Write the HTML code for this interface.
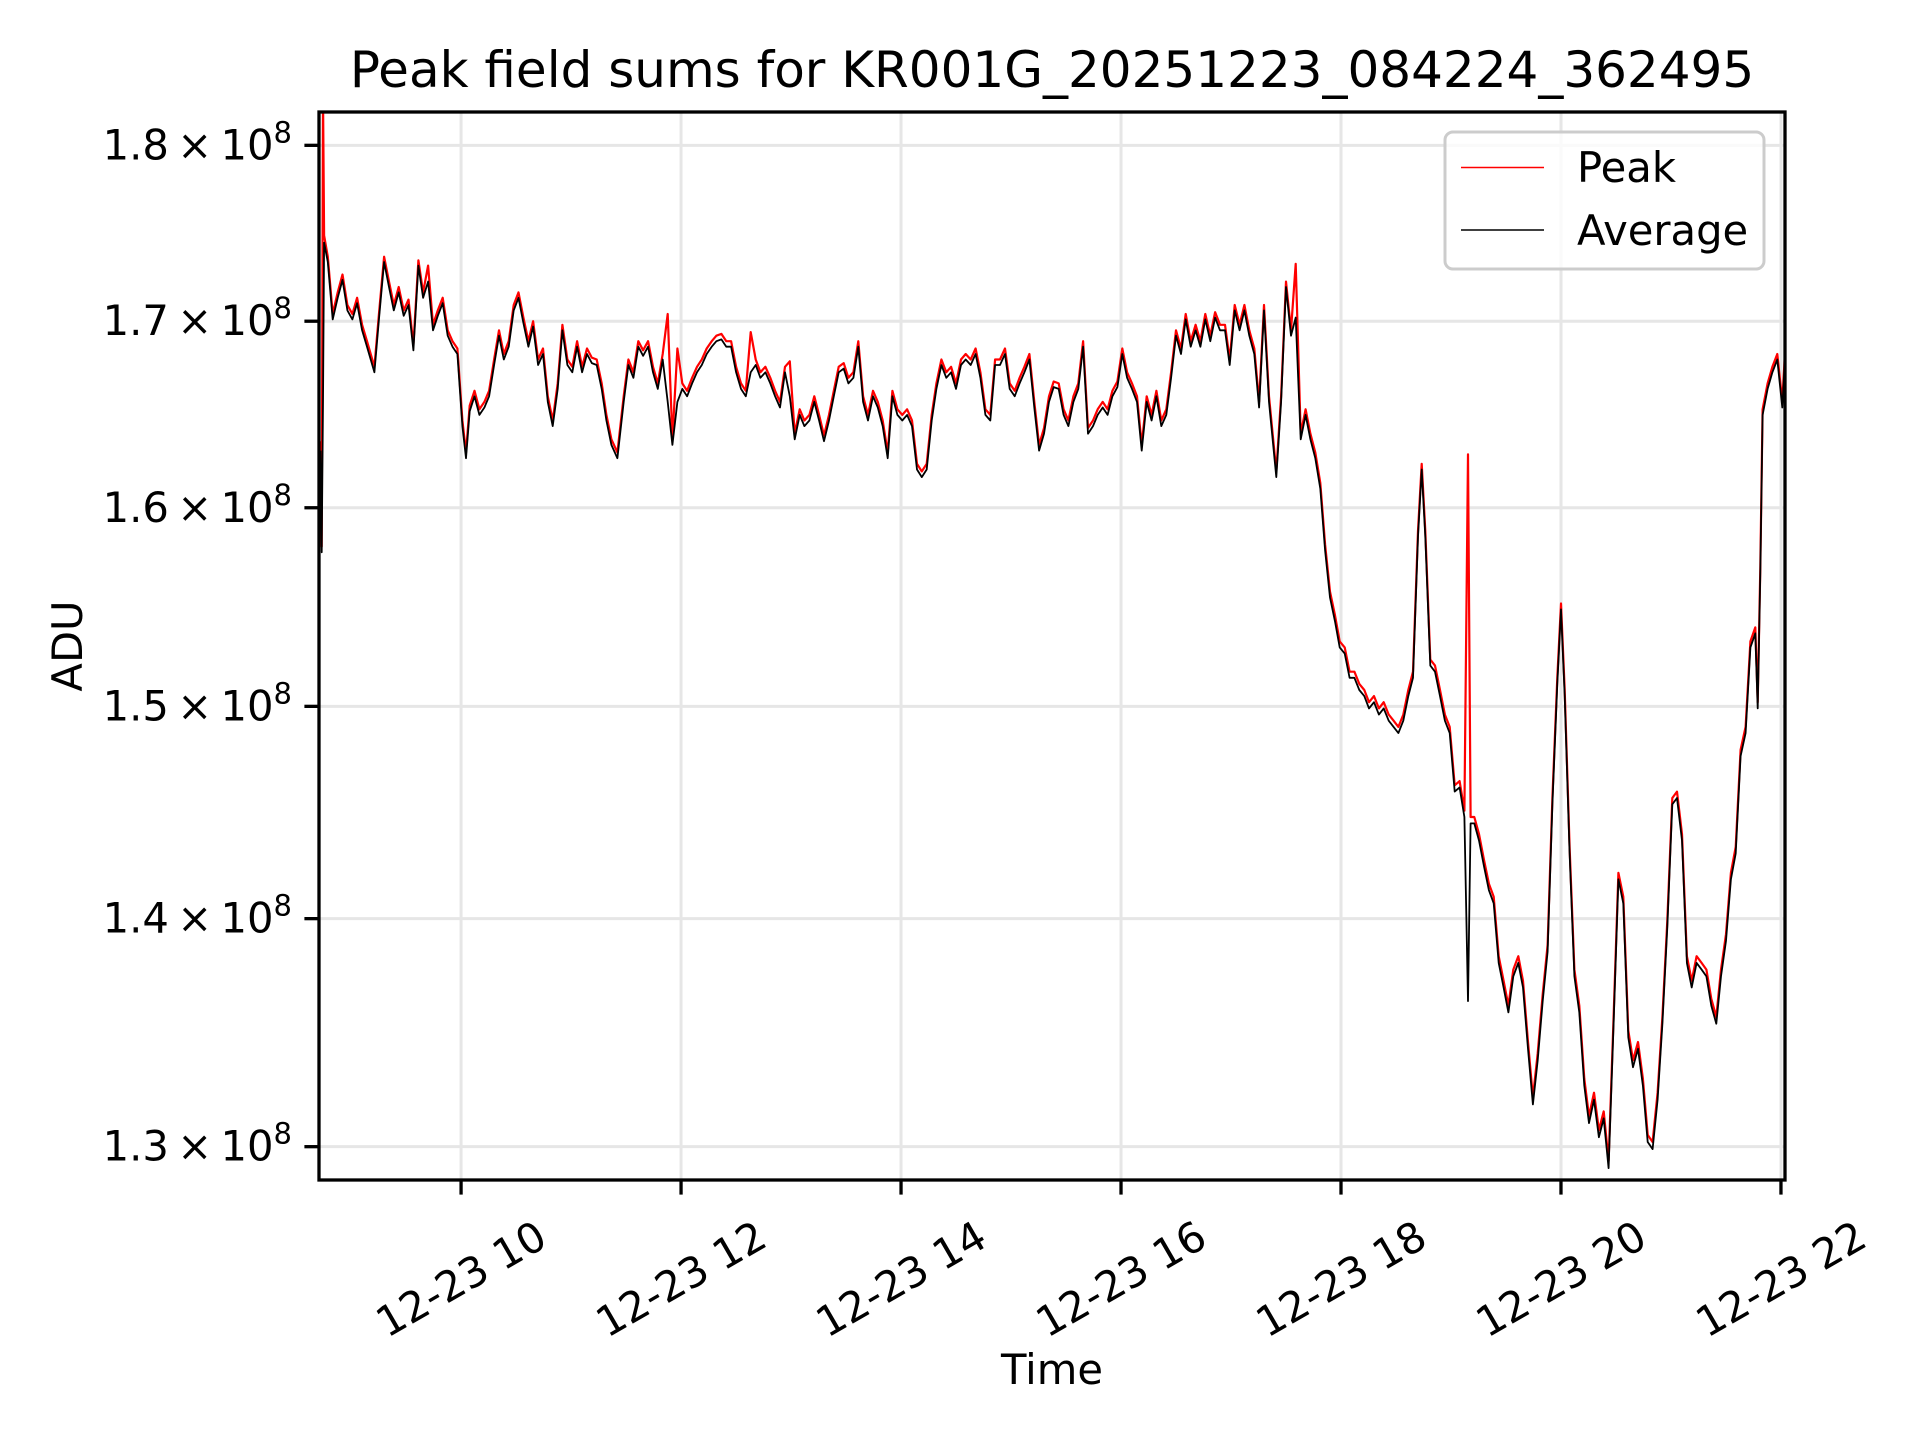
<!DOCTYPE html>
<html><head><meta charset="utf-8"><style>html,body{margin:0;padding:0;background:#fff;}svg{display:block;}text{font-family:"DejaVu Sans","Liberation Sans",sans-serif;fill:#000;}</style></head>
<body>
<svg id="chart" width="1920" height="1440" viewBox="0 0 1920 1440" xmlns="http://www.w3.org/2000/svg">
<rect x="0" y="0" width="1920" height="1440" fill="#fff"/>
<defs><clipPath id="plotclip"><rect x="319" y="112" width="1466" height="1068"/></clipPath></defs>
<g id="grid"></g>
<g id="series" clip-path="url(#plotclip)"></g>
<rect x="319" y="112" width="1466" height="1068" fill="none" stroke="#000" stroke-width="3.3"/>
<g id="axes"></g>
<text x="1052" y="87" font-size="50" text-anchor="middle">Peak field sums for KR001G_20251223_084224_362495</text>
<text x="1052" y="1384" font-size="41.7" text-anchor="middle">Time</text>
<text x="0" y="0" font-size="41.7" text-anchor="middle" transform="translate(82,646) rotate(-90)">ADU</text>
<g>
<rect x="1445" y="132" width="319" height="137" rx="8" fill="#fff" fill-opacity="0.8" stroke="#cccccc" stroke-width="3"/>
<line x1="1461" y1="167.5" x2="1544" y2="167.5" stroke="#ff0000" stroke-width="1.6"/>
<text x="1577" y="182" font-size="41.7">Peak</text>
<line x1="1461" y1="230" x2="1544" y2="230" stroke="#000" stroke-width="1.6"/>
<text x="1577" y="245" font-size="41.7">Average</text>
</g>
</svg>
<script>
// minutes after 2025-12-23 08:00
const times = [43.3,44.0,44.7,45.3,47.3,50.0,52.7,55.3,58.0,60.7,63.3,66.0,68.7,72.7,75.3,78.0,80.7,83.3,86.0,88.7,91.3,94.0,96.7,99.3,102.0,104.7,107.3,110.0,112.7,115.3,118.0,120.7,122.7,124.7,127.3,130.0,132.7,135.3,138.0,140.7,143.3,146.0,148.7,151.3,154.0,156.7,159.3,162.0,164.7,167.3,170.0,172.7,175.3,178.0,180.7,183.3,186.0,188.7,191.3,194.0,196.7,199.3,202.0,205.3,208.7,211.3,214.0,216.7,219.3,222.0,224.7,227.3,230.0,232.7,235.3,238.0,240.7,243.3,246.0,248.7,251.3,254.0,256.7,259.3,262.0,264.7,267.3,270.0,272.7,275.3,278.0,280.7,283.3,286.0,288.7,291.3,294.0,296.7,299.3,302.0,304.7,307.3,310.0,312.7,315.3,318.0,320.7,323.3,326.0,328.7,331.3,334.0,336.7,339.3,342.0,344.7,347.3,350.0,352.7,355.3,358.0,360.7,363.3,366.0,368.7,371.3,374.0,376.7,379.3,382.0,384.7,387.3,390.0,392.7,395.3,398.0,400.7,403.3,406.0,408.7,411.3,414.0,416.7,419.3,422.0,424.7,427.3,430.0,432.7,435.3,438.0,440.7,443.3,446.0,448.7,451.3,454.0,456.7,459.3,462.0,464.7,467.3,470.0,472.7,475.3,478.0,480.7,483.3,486.0,488.7,491.3,494.0,496.7,499.3,502.0,504.7,507.3,510.0,512.7,515.3,518.0,520.7,523.3,526.0,528.7,531.3,534.0,536.7,539.3,542.0,544.7,547.3,550.0,552.7,555.3,558.0,560.7,564.7,567.3,570.0,572.7,575.3,578.0,580.7,583.3,586.0,588.7,591.3,594.0,596.7,599.3,602.0,604.7,607.3,610.0,612.7,615.3,618.0,620.7,623.3,626.0,628.7,631.3,634.0,636.7,639.3,642.0,644.0,646.0,648.7,651.3,654.0,656.7,659.3,662.0,664.7,667.3,669.3,670.7,672.7,675.3,678.0,680.7,683.3,686.0,688.7,691.3,694.0,696.7,699.3,702.0,704.7,707.3,710.0,712.7,715.3,718.0,720.0,722.0,724.7,727.3,730.0,732.7,735.3,738.0,740.7,743.3,746.0,748.7,751.3,754.0,756.7,759.3,762.0,764.7,767.3,770.0,772.7,775.3,778.0,780.7,783.3,786.0,788.7,791.3,794.0,796.7,799.3,802.0,804.7,807.3,810.0,812.7,815.3,818.0,820.7,823.3,826.0,827.3,828.7,830.0,832.7,835.3,838.0,840.7,842.0];
// Average, units of 1e8 ADU
const averageValues = [1.630,1.577,1.656,1.744,1.733,1.701,1.713,1.723,1.706,1.701,1.710,1.695,1.686,1.672,1.702,1.733,1.719,1.706,1.716,1.703,1.709,1.684,1.731,1.713,1.722,1.695,1.703,1.710,1.692,1.686,1.682,1.643,1.626,1.651,1.659,1.649,1.653,1.659,1.676,1.692,1.679,1.686,1.706,1.713,1.699,1.686,1.697,1.676,1.682,1.656,1.643,1.663,1.695,1.676,1.672,1.686,1.672,1.682,1.677,1.676,1.663,1.646,1.633,1.626,1.656,1.676,1.669,1.686,1.681,1.686,1.672,1.663,1.679,1.656,1.633,1.656,1.663,1.659,1.666,1.672,1.676,1.682,1.686,1.689,1.690,1.686,1.686,1.672,1.663,1.659,1.672,1.676,1.669,1.672,1.666,1.659,1.653,1.672,1.659,1.636,1.649,1.643,1.646,1.656,1.646,1.635,1.646,1.659,1.672,1.674,1.666,1.669,1.686,1.656,1.646,1.659,1.653,1.643,1.626,1.659,1.649,1.646,1.649,1.643,1.620,1.616,1.620,1.646,1.663,1.676,1.669,1.672,1.663,1.676,1.679,1.676,1.682,1.669,1.649,1.646,1.676,1.676,1.682,1.663,1.659,1.666,1.672,1.679,1.653,1.630,1.639,1.656,1.664,1.663,1.649,1.643,1.656,1.663,1.686,1.639,1.643,1.649,1.653,1.649,1.659,1.664,1.682,1.669,1.663,1.656,1.630,1.656,1.646,1.659,1.643,1.649,1.669,1.692,1.682,1.701,1.686,1.695,1.686,1.701,1.689,1.702,1.695,1.695,1.676,1.706,1.695,1.706,1.692,1.682,1.653,1.706,1.656,1.616,1.656,1.719,1.692,1.702,1.636,1.649,1.636,1.626,1.610,1.578,1.554,1.542,1.529,1.526,1.514,1.514,1.508,1.505,1.499,1.502,1.496,1.499,1.493,1.490,1.487,1.493,1.505,1.514,1.585,1.620,1.585,1.520,1.517,1.505,1.493,1.487,1.459,1.461,1.447,1.363,1.444,1.444,1.436,1.424,1.413,1.407,1.380,1.369,1.358,1.374,1.380,1.369,1.342,1.318,1.337,1.363,1.385,1.453,1.511,1.548,1.505,1.430,1.374,1.358,1.326,1.310,1.320,1.304,1.312,1.291,1.353,1.418,1.407,1.347,1.334,1.342,1.326,1.302,1.299,1.320,1.353,1.396,1.453,1.456,1.436,1.380,1.369,1.380,1.377,1.374,1.361,1.353,1.374,1.390,1.418,1.430,1.476,1.487,1.529,1.536,1.499,1.566,1.649,1.663,1.672,1.679,1.653,1.676];
// Peak, units of 1e8 ADU
const peakValues = [1.635,1.580,1.830,1.748,1.736,1.704,1.716,1.726,1.709,1.704,1.713,1.698,1.689,1.675,1.705,1.736,1.722,1.709,1.719,1.706,1.712,1.687,1.734,1.716,1.731,1.698,1.706,1.713,1.695,1.689,1.685,1.646,1.629,1.654,1.662,1.652,1.656,1.662,1.679,1.695,1.682,1.689,1.709,1.716,1.702,1.689,1.700,1.679,1.685,1.659,1.646,1.666,1.698,1.679,1.675,1.689,1.675,1.685,1.680,1.679,1.666,1.649,1.636,1.629,1.659,1.679,1.672,1.689,1.684,1.689,1.675,1.666,1.682,1.704,1.636,1.685,1.666,1.662,1.669,1.675,1.679,1.685,1.689,1.692,1.693,1.689,1.689,1.675,1.666,1.662,1.694,1.679,1.672,1.675,1.669,1.662,1.656,1.675,1.678,1.639,1.652,1.646,1.649,1.659,1.649,1.638,1.649,1.662,1.675,1.677,1.669,1.672,1.689,1.659,1.649,1.662,1.656,1.646,1.629,1.662,1.652,1.649,1.652,1.646,1.623,1.619,1.623,1.649,1.666,1.679,1.672,1.675,1.666,1.679,1.682,1.679,1.685,1.672,1.652,1.649,1.679,1.679,1.685,1.666,1.662,1.669,1.675,1.682,1.656,1.633,1.642,1.659,1.667,1.666,1.652,1.646,1.659,1.666,1.689,1.642,1.646,1.652,1.656,1.652,1.662,1.667,1.685,1.672,1.666,1.659,1.633,1.659,1.649,1.662,1.646,1.652,1.672,1.695,1.685,1.704,1.689,1.698,1.689,1.704,1.692,1.705,1.698,1.698,1.679,1.709,1.698,1.709,1.695,1.685,1.656,1.709,1.659,1.619,1.659,1.722,1.695,1.732,1.639,1.652,1.639,1.629,1.613,1.581,1.557,1.545,1.532,1.529,1.517,1.517,1.511,1.508,1.502,1.505,1.499,1.502,1.496,1.493,1.490,1.496,1.508,1.517,1.588,1.623,1.588,1.523,1.520,1.508,1.496,1.490,1.462,1.464,1.450,1.628,1.447,1.447,1.439,1.427,1.416,1.410,1.383,1.372,1.361,1.377,1.383,1.372,1.345,1.321,1.340,1.366,1.388,1.456,1.514,1.551,1.508,1.433,1.377,1.361,1.329,1.313,1.323,1.307,1.315,1.294,1.356,1.421,1.410,1.350,1.337,1.345,1.329,1.305,1.302,1.323,1.356,1.399,1.456,1.459,1.439,1.383,1.372,1.383,1.380,1.377,1.364,1.356,1.377,1.393,1.421,1.433,1.479,1.490,1.532,1.539,1.502,1.569,1.652,1.666,1.675,1.682,1.656,1.679];
const yTickValues = [1.3,1.4,1.5,1.6,1.7,1.8];
const yTickLabels = ["1.3","1.4","1.5","1.6","1.7","1.8"];
const xTickMinutes = [120,240,360,480,600,720,840];
const xTickLabels = ["12-23 10","12-23 12","12-23 14","12-23 16","12-23 18","12-23 20","12-23 22"];

const NS = "http://www.w3.org/2000/svg";
const PL = 319, PR = 1785, PT = 112, PB = 1180;
const xMin = 42.5, xMax = 842.2;
const yMin = 1.286, yMax = 1.8196;
function xScale(m){ return PL + (m - xMin) / (xMax - xMin) * (PR - PL); }
function yScale(v){ return PB - (Math.log(v) - Math.log(yMin)) / (Math.log(yMax) - Math.log(yMin)) * (PB - PT); }
function mk(tag, attrs, parent){ const e = document.createElementNS(NS, tag); for (const k in attrs) e.setAttribute(k, attrs[k]); parent.appendChild(e); return e; }

const grid = document.getElementById('grid');
const axes = document.getElementById('axes');
const series = document.getElementById('series');

yTickValues.forEach((v, i) => {
  const y = yScale(v);
  const gl = mk('line', {x1: PL, x2: PR, y1: y, y2: y, stroke: '#e6e6e6', 'stroke-width': 3}, grid);
  
  
  const tk = mk('line', {x1: PL - 14.6, x2: PL, y1: y, y2: y, stroke: '#000', 'stroke-width': 3.3}, axes);
  
  
  const t = mk('text', {x: PL - 27, y: y + 14, 'font-size': 41.7, 'text-anchor': 'end'}, axes);
  
  
  const a = document.createElementNS(NS, 'tspan'); a.textContent = yTickLabels[i] + '\u2009\u00d7\u200910'; t.appendChild(a);
  const s = document.createElementNS(NS, 'tspan'); s.setAttribute('dy', '-17'); s.setAttribute('font-size', '29'); s.textContent = '8'; t.appendChild(s);
});

xTickMinutes.forEach((m, i) => {
  const x = xScale(m);
  const gl = mk('line', {x1: x, x2: x, y1: PT, y2: PB, stroke: '#e6e6e6', 'stroke-width': 3}, grid);
  
  
  const tk = mk('line', {x1: x, x2: x, y1: PB, y2: PB + 14.6, stroke: '#000', 'stroke-width': 3.3}, axes);
  
  
  const t = mk('text', {x: 0, y: 0, 'font-size': 41.7, 'text-anchor': 'middle', 'dominant-baseline': 'central', transform: 'translate(' + x + ',1279) rotate(-30)'}, axes);
  
  
  t.textContent = xTickLabels[i];
});

function pathFor(vals){ return vals.map((v, i) => (i ? 'L' : 'M') + xScale(times[i]).toFixed(1) + ',' + yScale(v).toFixed(1)).join(''); }
const peak = mk('path', {d: pathFor(peakValues), fill: 'none', stroke: '#ff0000', 'stroke-width': 2.2, 'stroke-linejoin': 'round'}, series);


const avg = mk('path', {d: pathFor(averageValues), fill: 'none', stroke: '#000', 'stroke-width': 1.8, 'stroke-linejoin': 'round'}, series);


</script>
</body></html>
